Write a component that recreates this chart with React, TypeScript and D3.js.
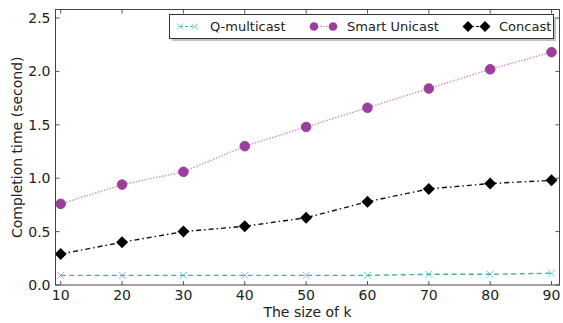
import React from "react";
import * as d3 from "d3";

const kValues = [10, 20, 30, 40, 50, 60, 70, 80, 90];
const qMulticast = [0.09, 0.09, 0.09, 0.09, 0.09, 0.09, 0.1, 0.1, 0.11];
const smartUnicast = [0.76, 0.94, 1.06, 1.3, 1.48, 1.66, 1.84, 2.02, 2.18];
const concast = [0.29, 0.4, 0.5, 0.55, 0.63, 0.78, 0.9, 0.95, 0.98];
const yTicks = [0, 0.5, 1.0, 1.5, 2.0, 2.5];

const W = 563;
const H = 323;
const FONT = "'DejaVu Sans', sans-serif";

const left = 55.5;
const right = 559.5;
const top = 9.5;
const bottom = 285;

export default function App() {
  const x = d3.scaleLinear().domain([9.15, 91.3]).range([left, right]);
  const y = d3.scaleLinear().domain([0, 2.58]).range([bottom, top]);

  const line = (vals: number[]) =>
    d3
      .line<number>()
      .x((_, i) => x(kValues[i]))
      .y((v) => y(v))(vals) || "";

  const diamond = (cx: number, cy: number, r: number) =>
    `M${cx},${cy - r}L${cx + r},${cy}L${cx},${cy + r}L${cx - r},${cy}Z`;
  const cross = (cx: number, cy: number, r: number) =>
    `M${cx - r},${cy - r}L${cx + r},${cy + r}M${cx - r},${cy + r}L${cx + r},${cy - r}`;

  const teal = "#3fb0b0";
  const purple = "#9c3e9c";
  const pink = "#c98ac9";

  // legend layout
  const lg = { x: 169.5, y: 14.5, w: 384, h: 24 };
  const lgMid = lg.y + lg.h / 2;

  return (
    <svg
      width={W}
      height={H}
      style={{ position: "absolute", left: 0, top: 0, background: "#fff" }}
      fontFamily={FONT}
    >
      <rect width={W} height={H} fill="#fff" />

      {/* ticks inside on all four sides */}
      {yTicks.map((t) => (
        <g key={"y" + t}>
          <line x1={left} x2={left + 4} y1={y(t)} y2={y(t)} stroke="#555" />
          <line x1={right} x2={right - 4} y1={y(t)} y2={y(t)} stroke="#555" />
          <text
            x={left - 5}
            y={y(t)}
            dy="0.36em"
            textAnchor="end"
            fontSize={14}
            fill="#222"
          >
            {d3.format(".1f")(t)}
          </text>
        </g>
      ))}
      {kValues.map((k) => (
        <g key={"x" + k}>
          <line x1={x(k)} x2={x(k)} y1={bottom} y2={bottom - 4} stroke="#555" />
          <line x1={x(k)} x2={x(k)} y1={top} y2={top + 4} stroke="#555" />
          <text x={x(k)} y={bottom + 15} textAnchor="middle" fontSize={14} fill="#222">
            {k}
          </text>
        </g>
      ))}

      {/* series lines */}
      <path
        d={line(smartUnicast)}
        fill="none"
        stroke={pink}
        strokeWidth={1.3}
        strokeDasharray="1.5,1.5"
      />
      <path
        d={line(concast)}
        fill="none"
        stroke="#111"
        strokeWidth={1.4}
        strokeDasharray="5,3,1.5,3"
      />
      <path
        d={line(qMulticast)}
        fill="none"
        stroke={teal}
        strokeWidth={1.4}
        strokeDasharray="5,3.5"
      />

      {/* markers */}
      {smartUnicast.map((v, i) => (
        <circle key={"su" + i} cx={x(kValues[i])} cy={y(v)} r={4.8} fill={purple} stroke={purple} />
      ))}
      {concast.map((v, i) => (
        <path key={"cc" + i} d={diamond(x(kValues[i]), y(v), 6)} fill="#000" />
      ))}
      {qMulticast.map((v, i) => (
        <path
          key={"qm" + i}
          d={cross(x(kValues[i]), y(v), 3.5)}
          stroke={teal}
          strokeOpacity={0.7}
          strokeWidth={1}
        />
      ))}

      {/* frame */}
      <rect
        x={left}
        y={top}
        width={right - left}
        height={bottom - top}
        fill="none"
        stroke="#444"
        strokeWidth={1}
      />

      {/* legend */}
      <rect x={lg.x + 2.5} y={lg.y + 2.5} width={lg.w} height={lg.h} fill="#999" opacity={0.6} />
      <rect x={lg.x} y={lg.y} width={lg.w} height={lg.h} fill="#fff" stroke="#333" strokeWidth={1} />

      <line x1={180} x2={195} y1={lgMid} y2={lgMid} stroke={teal} strokeDasharray="3,2" />
      <path d={cross(180, lgMid, 3)} stroke={teal} strokeOpacity={0.7} />
      <path d={cross(195, lgMid, 3)} stroke={teal} strokeOpacity={0.7} />
      <text x={210} y={lgMid} dy="0.36em" fontSize={13} fill="#222">
        Q-multicast
      </text>

      <line x1={314} x2={333} y1={lgMid} y2={lgMid} stroke={pink} strokeDasharray="1.5,1.5" />
      <circle cx={314} cy={lgMid} r={4.3} fill={purple} />
      <circle cx={333} cy={lgMid} r={4.3} fill={purple} />
      <text x={347} y={lgMid} dy="0.36em" fontSize={13} fill="#222">
        Smart Unicast
      </text>

      <line x1={468} x2={485} y1={lgMid} y2={lgMid} stroke="#000" strokeDasharray="3,2,1,2" />
      <path d={diamond(468, lgMid, 5.5)} fill="#000" />
      <path d={diamond(485, lgMid, 5.5)} fill="#000" />
      <text x={499} y={lgMid} dy="0.36em" fontSize={13} fill="#222">
        Concast
      </text>

      {/* axis titles */}
      <text
        x={(left + right) / 2}
        y={317}
        textAnchor="middle"
        fontSize={14}
        fill="#222"
      >
        The size of k
      </text>
      <text
        transform={`translate(22,${(top + bottom) / 2}) rotate(-90)`}
        textAnchor="middle"
        fontSize={14}
        fill="#222"
      >
        Completion time (second)
      </text>
    </svg>
  );
}
